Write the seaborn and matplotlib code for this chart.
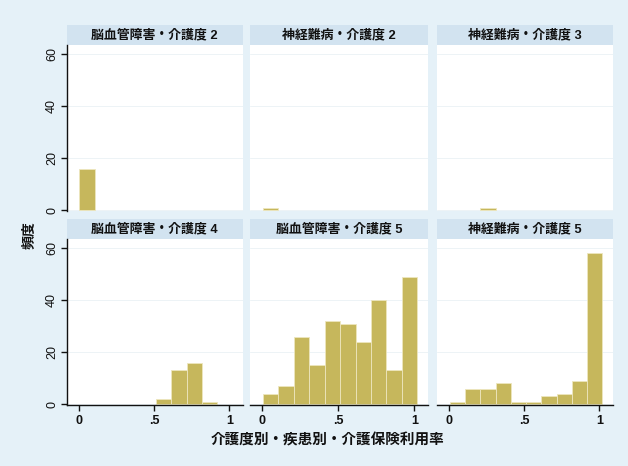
import numpy as np
import pandas as pd
import matplotlib
matplotlib.use("Agg")
import matplotlib.pyplot as plt
from matplotlib.patches import Rectangle
import seaborn as sns

# Panels: disease group x care level
panel_titles = ["脳血管障害・介護度 2", "神経難病・介護度 2", "神経難病・介護度 3",
                "脳血管障害・介護度 4", "脳血管障害・介護度 5", "神経難病・介護度 5"]

# Common histogram bins for the utilisation rate
bin_edges = list(np.linspace(0.005, 1.02, 11))

# Frequency per bin, one list per panel
freq_cvd_2 = [16, 0, 0, 0, 0, 0, 0, 0, 0, 0]
freq_neuro_2 = [1, 0, 0, 0, 0, 0, 0, 0, 0, 0]
freq_neuro_3 = [0, 0, 1, 0, 0, 0, 0, 0, 0, 0]
freq_cvd_4 = [0, 0, 0, 0, 0, 2, 13, 16, 1, 0]
freq_cvd_5 = [4, 7, 26, 15, 32, 31, 24, 40, 13, 49]
freq_neuro_5 = [1, 6, 6, 8, 1, 1, 3, 4, 9, 58]

x_ticks = [0, 0.5, 1]
x_tick_labels = ["0", ".5", "1"]
y_ticks = [0, 20, 40, 60]
y_tick_labels = ["0", "20", "40", "60"]

freqs = [freq_cvd_2, freq_neuro_2, freq_neuro_3, freq_cvd_4, freq_cvd_5, freq_neuro_5]
centers = [(a + b) / 2 for a, b in zip(bin_edges[:-1], bin_edges[1:])]
rows = []
for title, f in zip(panel_titles, freqs):
    for c, n in zip(centers, f):
        rows.append({"panel": title, "rate": c, "count": n})
df = pd.DataFrame(rows)

sns.set_theme(style="white")
plt.rcParams["font.family"] = ["Liberation Sans", "Noto Sans CJK JP", "DejaVu Sans"]

W, H = 628, 466
BG = "#E5F1F8"
STRIP = "#D2E3F0"
BAR = "#C6B75C"
BAR_EDGE = "#EDE6BE"
INK = "#111111"

fig = plt.figure(figsize=(W / 100, H / 100), dpi=100)
fig.patch.set_facecolor(BG)

cols = [(66.5, 243), (250, 428), (437, 613)]
rows_px = [(45, 211), (239, 405)]
strip_h = 20

for i, title in enumerate(panel_titles):
    r, c = divmod(i, 3)
    x0, x1 = cols[c]
    y0, y1 = rows_px[r]
    ax = fig.add_axes([x0 / W, 1 - y1 / H, (x1 - x0) / W, (y1 - y0) / H])
    ax.set_facecolor("white")
    sub = df[df["panel"] == title]
    sns.histplot(data=sub, x="rate", weights="count", bins=bin_edges, ax=ax,
                 color=BAR, alpha=1, edgecolor=BAR_EDGE, linewidth=0.6)
    for p in ax.patches:
        if p.get_height() == 0:
            p.set_visible(False)
    ax.set_xlim(-0.08, 1.09)
    ax.set_ylim(-0.3, 63.5)
    ax.set_xlabel("")
    ax.set_ylabel("")
    ax.set_yticks(y_ticks)
    ax.yaxis.grid(True, color="#EDF3F6", lw=0.7)
    ax.set_axisbelow(True)
    for s in ax.spines.values():
        s.set_visible(False)

    if c == 0:
        ax.spines["left"].set_visible(True)
        ax.spines["left"].set_color(INK)
        ax.spines["left"].set_linewidth(1.0)
        ax.set_yticklabels(y_tick_labels, rotation=90, va="center", fontsize=9,
                           color=INK)
        ax.tick_params(axis="y", left=True, length=4, width=1, color=INK, pad=2)
    else:
        ax.tick_params(axis="y", left=False, labelleft=False)

    if r == 1:
        ax.spines["bottom"].set_visible(True)
        ax.spines["bottom"].set_color(INK)
        ax.spines["bottom"].set_linewidth(1.0)
        ax.set_xticks(x_ticks)
        ax.set_xticklabels(x_tick_labels, fontsize=9, fontweight="bold", color=INK)
        ax.tick_params(axis="x", bottom=True, length=4, width=1, color=INK, pad=3)
    else:
        ax.set_xticks(x_ticks)
        ax.tick_params(axis="x", bottom=False, labelbottom=False)

    hh = strip_h / (y1 - y0)
    ax.add_patch(Rectangle((0, 1), 1, hh, transform=ax.transAxes, facecolor=STRIP,
                           edgecolor="none", clip_on=False))
    ax.text(0.5, 1 + hh / 2, title, transform=ax.transAxes, ha="center", va="center",
            fontsize=9.3, fontweight="bold", color=INK)

fig.text(30 / W, 1 - 235 / H, "頻度", rotation=90, ha="center", va="center",
         fontsize=10, fontweight="bold", color=INK)
fig.text(328 / W, 1 - 440 / H, "介護度別・疾患別・介護保険利用率", ha="center", va="center",
         fontsize=10.5, fontweight="bold", color=INK)

fig.savefig("out.png", dpi=100, facecolor=BG)
